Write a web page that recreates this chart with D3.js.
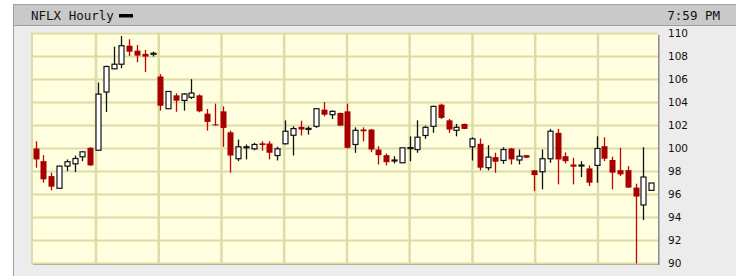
<!DOCTYPE html>
<html>
<head>
<meta charset="utf-8">
<script src="https://cdn.jsdelivr.net/npm/d3@7"></script>
<style>
  body { margin: 0; background: #fff; }
  .title { font-family: "DejaVu Sans Mono", monospace; font-size: 12.5px; fill: #111; }
  .axis text { font-family: "DejaVu Sans", sans-serif; font-size: 10.5px; fill: #111; }
</style>
</head>
<body>
<div class="main"></div>
<script>

const symbol = "NFLX Hourly"
const clock = "7:59 PM"

// hourly bars
const open  = [100.0, 98.9, 97.6, 96.54, 98.47, 98.67, 99.28, 100.06, 99.85, 104.91,
               106.93, 107.33, 108.94, 108.51, 108.23, 108.26, 106.26, 103.46, 104.62, 104.18,
               104.45, 104.62, 103.03, 102.1, 103.23, 101.41, 99.11, 100.1, 99.97, 100.45,
               100.43, 99.39, 100.41, 101.15, 101.88, 101.7, 101.93, 103.38, 102.94, 103.09,
               103.23, 100.35, 101.65, 101.65, 99.91, 99.42, 98.97, 98.76, 100.02, 99.91,
               101.13, 101.93, 103.81, 102.45, 101.58, 102.14, 100.15, 100.41, 98.33, 99.25,
               98.96, 100.0, 99.0, 99.42, 98.1, 97.98, 99.11, 101.36, 99.33, 98.61,
               98.5, 98.27, 98.53, 100.2, 99.0, 98.12, 98.12, 96.6, 95.09, 96.36]
const high  = [100.63, 99.42, 97.9, 98.5, 99.05, 99.39, 99.77, 100.1, 105.74, 107.2,
               108.86, 109.78, 109.5, 109.0, 108.57, 108.42, 106.47, 105.0, 104.8, 104.82,
               106.03, 104.7, 103.44, 103.9, 103.66, 101.56, 100.78, 100.35, 100.49, 100.63,
               100.63, 100.15, 102.45, 101.93, 102.42, 101.93, 103.46, 104.04, 103.32, 103.12,
               103.9, 101.84, 101.84, 101.7, 100.2, 99.57, 99.33, 100.06, 101.06, 102.45,
               101.99, 103.72, 103.9, 102.57, 102.14, 102.16, 100.98, 100.87, 100.29, 99.63,
               100.11, 100.05, 99.91, 99.45, 98.12, 99.91, 101.7, 101.7, 99.66, 99.19,
               98.9, 98.53, 101.06, 100.98, 99.28, 100.06, 98.47, 96.94, 100.11, 97.0]
const low   = [98.33, 97.03, 96.36, 96.5, 98.03, 97.95, 98.9, 98.5, 99.8, 103.18,
               106.9, 106.98, 108.05, 107.5, 106.64, 108.0, 103.29, 103.45, 103.2, 103.29,
               104.3, 103.15, 101.56, 102.0, 100.15, 97.9, 98.9, 99.05, 99.85, 99.8,
               99.05, 98.96, 100.35, 99.39, 101.13, 101.21, 101.79, 102.8, 102.57, 101.99,
               100.0, 99.63, 100.63, 99.68, 98.61, 98.53, 98.7, 98.76, 98.9, 99.63,
               100.84, 101.36, 102.57, 101.36, 101.06, 101.68, 98.96, 98.1, 98.1, 97.9,
               98.67, 98.61, 98.61, 99.2, 96.3, 96.45, 98.76, 96.88, 98.7, 96.88,
               97.52, 96.74, 97.03, 98.9, 96.45, 97.6, 96.6, 90.0, 93.77, 96.36]
const close = [99.05, 97.32, 96.68, 98.47, 98.85, 99.13, 99.71, 98.53, 104.73, 107.13,
               107.33, 108.94, 108.42, 108.08, 107.99, 108.28, 103.72, 104.96, 104.16, 104.74,
               104.82, 103.23, 102.31, 102.03, 101.79, 99.39, 100.15, 100.15, 100.35, 100.3,
               99.63, 99.97, 101.5, 101.73, 101.65, 101.75, 103.46, 102.94, 103.23, 101.99,
               100.06, 101.58, 101.5, 99.91, 99.42, 98.81, 99.0, 100.06, 100.08, 100.98,
               101.84, 103.66, 102.66, 101.65, 101.84, 101.7, 100.84, 98.33, 99.25, 98.85,
               99.91, 99.05, 99.33, 99.2, 97.69, 99.11, 101.5, 99.05, 98.9, 98.42,
               98.56, 97.03, 100.0, 99.11, 97.9, 97.75, 96.6, 95.82, 97.52, 97.0]

// price ticks on the right and the vertical grid (in bar units)
const priceTicks = [90, 92, 94, 96, 98, 100, 102, 104, 106, 108, 110]
const dayBreaks = [7.74, 15.8, 23.85, 31.9, 39.96, 48.0, 56.07, 64.12, 72.18]


const chart = () => {

    ////////////
    // CANVAS //
    ////////////

    const w = 736
    const h = 276
    const plot = { left: 31.5, top: 33.5, right: 658, bottom: 263.5 }

    const svg = d3.select(".main")
        .append("svg")
        .attr("width", w)
        .attr("height", h)

    // outer panel + title bar
    svg.append("rect")
        .attr("x", 13.5).attr("y", 4.5)
        .attr("width", w).attr("height", h)
        .attr("fill", "#ececec")
        .attr("stroke", "#a0a0a0")

    svg.append("rect")
        .attr("x", 13.5).attr("y", 4.5)
        .attr("width", w).attr("height", 21)
        .attr("fill", "#c9c9c9")
        .attr("stroke", "#a0a0a0")

    svg.append("text")
        .attr("class", "title")
        .attr("x", 31).attr("y", 20)
        .text(symbol)

    svg.append("rect")
        .attr("x", 119).attr("y", 14)
        .attr("width", 14).attr("height", 3.5)
        .attr("fill", "#000")

    svg.append("text")
        .attr("class", "title")
        .attr("x", 720).attr("y", 19.5)
        .attr("text-anchor", "end")
        .text(clock)

    ////////////
    // SCALES //
    ////////////

    const n = open.length

    const xScale = d3.scaleLinear()
        .domain([-0.5, n - 0.5])
        .range([31.8, 655])

    const yScale = d3.scaleLinear()
        .domain([90, 110])
        .range([plot.bottom, plot.top])

    //////////
    // GRID //
    //////////

    // shadow on the bottom/right
    svg.append("rect")
        .attr("x", plot.left + 1.5).attr("y", plot.top + 1.5)
        .attr("width", plot.right - plot.left).attr("height", plot.bottom - plot.top)
        .attr("fill", "#8a8a8a")

    svg.append("rect")
        .attr("x", plot.left).attr("y", plot.top - 1)
        .attr("width", plot.right - plot.left).attr("height", plot.bottom - plot.top + 1)
        .attr("fill", "#ffffe0")

    const grid = svg.append("g")
        .attr("stroke", "#dcdca6")
        .attr("stroke-width", 2)

    grid.selectAll(".hgrid")
        .data(priceTicks)
        .enter()
        .append("line")
        .attr("x1", plot.left).attr("x2", plot.right)
        .attr("y1", d => yScale(d)).attr("y2", d => yScale(d))

    grid.selectAll(".vgrid")
        .data(dayBreaks)
        .enter()
        .append("line")
        .attr("x1", d => xScale(d)).attr("x2", d => xScale(d))
        .attr("y1", plot.top - 1).attr("y2", plot.bottom)
        .attr("stroke-width", 2.5)

    grid.append("line")
        .attr("x1", plot.left + 0.5).attr("x2", plot.left + 0.5)
        .attr("y1", plot.top - 1).attr("y2", plot.bottom)

    /////////////
    // CANDLES //
    /////////////

    const bars = d3.range(n).map(i => ({
        i, o: open[i], h: high[i], l: low[i], c: close[i], up: close[i] >= open[i]
    }))

    const candles = svg.append("g")
        .selectAll("g")
        .data(bars)
        .enter()
        .append("g")

    candles.append("line")
        .attr("x1", d => Math.round(xScale(d.i)) + 0.5)
        .attr("x2", d => Math.round(xScale(d.i)) + 0.5)
        .attr("y1", d => yScale(d.h))
        .attr("y2", d => Math.min(yScale(d.l), plot.bottom))
        .attr("stroke", d => d.up ? "#111" : "#c40000")
        .attr("stroke-width", 1.3)

    candles.append("rect")
        .attr("x", d => Math.round(xScale(d.i)) - (d.up ? 2 : 2.5))
        .attr("y", d => yScale(Math.max(d.o, d.c)))
        .attr("width", d => d.up ? 5 : 6)
        .attr("height", d => Math.max(1, yScale(Math.min(d.o, d.c)) - yScale(Math.max(d.o, d.c))))
        .attr("fill", d => d.up ? "#fff" : "#a80000")
        .attr("stroke", d => d.up ? "#111" : "none")
        .attr("stroke-width", 1.2)

    ///////////
    // AXLES //
    ///////////

    const yAxis = d3.axisRight(yScale)
        .tickValues(priceTicks)
        .tickSize(0)
        .tickPadding(10)

    svg.append("g")
        .attr("class", "axis")
        .attr("transform", `translate(${plot.right}, 0)`)
        .call(yAxis)
        .call(g => g.select(".domain").remove())

}

chart()

</script>
</body>
</html>
